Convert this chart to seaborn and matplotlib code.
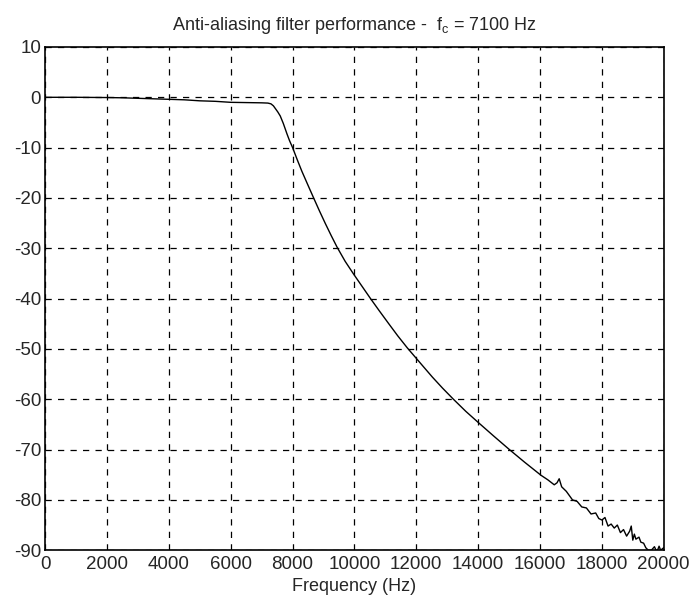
import matplotlib
matplotlib.use("Agg")
import matplotlib.pyplot as plt
import seaborn as sns
import pandas as pd

freq_hz = [0, 1000, 2000, 2500, 3000, 3500, 4000, 4500, 5000, 5500, 6000, 6500,
           7000, 7200, 7300, 7380, 7450, 7520, 7600, 7700, 7820, 7900, 8000, 8150,
           8300, 8500, 8680, 8870, 9060, 9250, 9440, 9700, 9980, 10250, 10520,
           10800, 11110, 11400, 11710, 12100, 12520, 12850, 13200, 13600, 14000,
           14500, 15010, 15500, 16030, 16250, 16460, 16550, 16620, 16700, 16850,
           17050, 17200, 17350, 17500, 17650, 17800, 17900, 18000, 18100, 18200,
           18300, 18400, 18500, 18600, 18700, 18800, 18900, 18950, 19000, 19050,
           19100, 19200, 19260, 19350, 19420, 19500, 19600, 19700, 19750, 19800,
           19850, 19900, 20000]
gain_db = [0.0, 0.0, -0.05, -0.1, -0.2, -0.3, -0.4, -0.5, -0.7, -0.8, -1.0, -1.05,
           -1.1, -1.15, -1.3, -1.7, -2.3, -2.9, -3.7, -5.2, -7.3, -8.6, -10.0, -12.4,
           -14.7, -17.5, -20.0, -22.6, -25.1, -27.5, -29.8, -32.6, -35.2, -37.6, -40.0,
           -42.4, -45.0, -47.4, -49.8, -52.6, -55.6, -57.8, -60.0, -62.4, -64.6,
           -67.3, -70.0, -72.5, -75.1, -76.0, -77.0, -76.6, -75.8, -77.4, -78.3,
           -80.0, -80.3, -81.4, -81.6, -82.8, -82.6, -83.7, -84.0, -83.5, -85.2,
           -84.8, -85.6, -85.0, -86.5, -85.9, -87.2, -86.2, -85.2, -88.0, -86.8,
           -87.8, -87.4, -88.4, -88.6, -89.5, -90.0, -90.0, -89.3, -90.0, -90.0,
           -89.2, -90.0, -89.5]

x_ticks = [0, 2000, 4000, 6000, 8000, 10000, 12000, 14000, 16000, 18000, 20000]
y_ticks = [10, 0, -10, -20, -30, -40, -50, -60, -70, -80, -90]

sns.set_style("white")
plt.rcParams['font.family'] = ['Liberation Sans', 'DejaVu Sans']
plt.rcParams['mathtext.fontset'] = 'custom'
plt.rcParams['mathtext.rm'] = 'Liberation Sans'
plt.rcParams['mathtext.it'] = 'Liberation Sans'

df = pd.DataFrame({"f": freq_hz, "g": gain_db})

fig = plt.figure(figsize=(6.95, 6.10), dpi=100)
ax = fig.add_axes([0.065, 0.098, 0.890, 0.825])
sns.lineplot(data=df, x="f", y="g", ax=ax, color="black", linewidth=1.0,
             estimator=None, sort=True)

ax.set_xlim(0, 20000)
ax.set_ylim(-90, 10)
ax.set_xticks(x_ticks)
ax.set_yticks(y_ticks)
ax.set_xticklabels([str(t) for t in x_ticks], fontsize=13.5)
ax.set_yticklabels([str(t) for t in y_ticks], fontsize=13.5)
ax.tick_params(axis="x", direction="in", length=4, color="black", pad=4)
ax.tick_params(axis="y", direction="in", length=4, color="black", pad=3)
ax.grid(True, color="black", linestyle=(0, (5, 5)), linewidth=0.9)
for s in ax.spines.values():
    s.set_color("black")
    s.set_linewidth(1.2)
ax.set_xlabel("Frequency (Hz)", fontsize=13, labelpad=4)
ax.set_ylabel("")
ax.set_title("Anti-aliasing filter performance -  f$_\\mathrm{c}$ = 7100 Hz",
             fontsize=13, pad=12)

fig.savefig("out.png", dpi=100)
